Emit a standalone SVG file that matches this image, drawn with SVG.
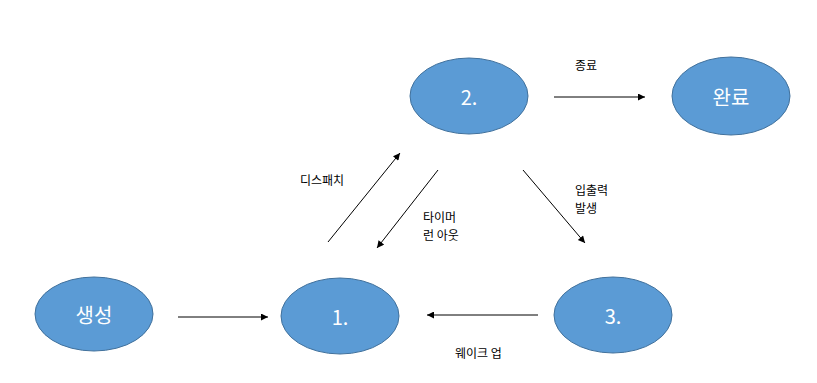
<svg xmlns="http://www.w3.org/2000/svg" width="817" height="383" viewBox="0 0 817 383">
<style>
.node ellipse{fill:#5B9BD5;stroke:#41719C;stroke-width:1}
.node text{fill:#fff;font-family:"Noto Sans CJK KR","Liberation Sans",sans-serif;font-size:20px;text-anchor:middle;dominant-baseline:central}
.edge line{stroke:#000;stroke-width:1;marker-end:url(#ah)}
.lbl{font-family:"Noto Sans CJK KR","Liberation Sans",sans-serif;font-size:12px;fill:#000}
</style>
<defs>
<marker id="ah" viewBox="0 0 10 10" refX="10" refY="5" markerWidth="9" markerHeight="7" markerUnits="userSpaceOnUse" orient="auto">
<path d="M0,0 L10,5 L0,10 z" fill="#000"/>
</marker>
</defs>
<rect width="817" height="383" fill="#fff"/>
<g id="n2" class="node"><ellipse cx="469" cy="96" rx="59" ry="38"/><text x="469" y="96">2.</text></g>
<g id="done" class="node"><ellipse cx="731" cy="96" rx="59" ry="39"/><text x="731" y="96">완료</text></g>
<g id="create" class="node"><ellipse cx="94" cy="314" rx="59" ry="37"/><text x="94" y="314">생성</text></g>
<g id="n1" class="node"><ellipse cx="340" cy="316" rx="59" ry="38"/><text x="340" y="316">1.</text></g>
<g id="n3" class="node"><ellipse cx="613" cy="315" rx="59" ry="38"/><text x="613" y="315">3.</text></g>
<g id="edges" class="edge">
<line x1="178" y1="317" x2="268" y2="317"/>
<line x1="554" y1="97" x2="645" y2="97"/>
<line x1="328" y1="242" x2="400" y2="153"/>
<line x1="438" y1="170" x2="377" y2="248"/>
<line x1="523" y1="170" x2="585" y2="243"/>
<line x1="538" y1="315" x2="427" y2="315"/>
</g>
<g id="labels">
<text class="lbl" x="575" y="70">종료</text>
<text class="lbl" x="300" y="185">디스패치</text>
<text class="lbl" x="423" y="222">타이머</text>
<text class="lbl" x="423" y="240">런 아웃</text>
<text class="lbl" x="575" y="195">입출력</text>
<text class="lbl" x="575" y="213">발생</text>
<text class="lbl" x="455" y="358">웨이크 업</text>
</g>
</svg>
